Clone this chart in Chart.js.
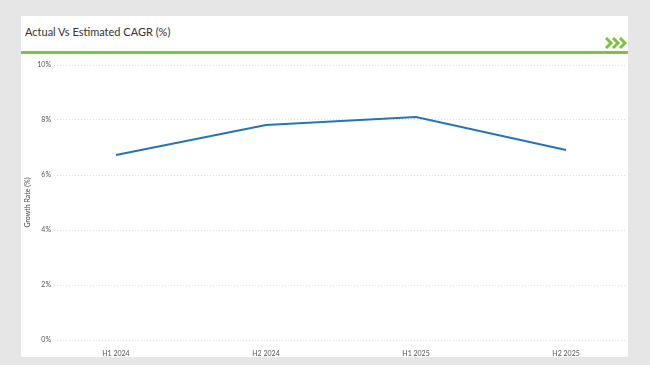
<!DOCTYPE html>
<html><head><meta charset="utf-8">
<script src="https://cdn.jsdelivr.net/npm/chart.js@4/dist/chart.umd.min.js"></script>
<style>
html,body{margin:0;padding:0;width:650px;height:365px;background:#e6e6e6;overflow:hidden;font-family:Lato,"Open Sans",sans-serif;}
#card{position:absolute;left:21px;top:16px;width:607px;height:341px;background:#fff;}
#title{position:absolute;left:4px;top:9px;font-size:11px;color:#333;}
#rule{position:absolute;left:0;top:35px;width:607px;height:3px;background:#7dc242;}
#chev{position:absolute;left:584px;top:21px;}
#wrap{position:absolute;left:0;top:39px;width:607px;height:302px;}
</style></head><body>
<div id="card">
  <div id="title">Actual Vs Estimated CAGR (%)</div>
  <svg id="chev" width="22" height="12" viewBox="0 0 22 12">
    <g fill="none" stroke="#7dc242" stroke-width="3">
      <polyline points="1,1 6,6 1,11"/><polyline points="8,1 13,6 8,11"/><polyline points="15,1 20,6 15,11"/>
    </g>
  </svg>
  <div id="rule"></div>
  <div id="wrap"><canvas id="c" width="607" height="302"></canvas></div>
</div>
<script>
const categories = ["H1 2024", "H2 2024", "H1 2025", "H2 2025"];
const growthRate = [6.73, 7.82, 8.11, 6.91];
const yTicks = [0, 2, 4, 6, 8, 10];

new Chart(document.getElementById('c'), {
  type: 'line',
  data: {
    datasets: [{
      data: categories.map((c, i) => ({x: i, y: growthRate[i]})),
      borderColor: '#2475b8',
      borderWidth: 2,
      pointRadius: 0,
      tension: 0,
      fill: false
    }]
  },
  options: {
    responsive: false,
    animation: false,
    events: [],
    layout: {padding: {left: 0, right: 3, top: 10, bottom: 0}},
    plugins: {legend: {display: false}, tooltip: {enabled: false}},
    scales: {
      x: {
        type: 'linear',
        min: -0.413, max: 3.393,
        afterBuildTicks: s => { s.ticks = categories.map((c, i) => ({value: i})); },
        afterFit: s => { s.height = 17; },
        grid: {display: false},
        border: {display: false},
        ticks: {
          autoSkip: false, maxRotation: 0, padding: 2,
          font: {family: 'Lato', size: 7}, color: '#555',
          callback: v => categories[v] ?? ''
        }
      },
      y: {
        min: 0, max: 10,
        afterBuildTicks: s => { s.ticks = yTicks.map(v => ({value: v})); },
        afterFit: s => { s.width = 33; },
        border: {display: false, dash: [1, 2]},
        grid: {color: '#e0e0e0', lineWidth: 1, drawTicks: false},
        ticks: {padding: 3, font: {family: 'Lato', size: 7}, color: '#555', callback: v => v + '%'},
        title: {display: true, text: 'Growth Rate (%)', font: {family: 'Lato', size: 7}, color: '#444', padding: {top: 3, bottom: 0}}
      }
    }
  }
});
</script>
</body></html>
